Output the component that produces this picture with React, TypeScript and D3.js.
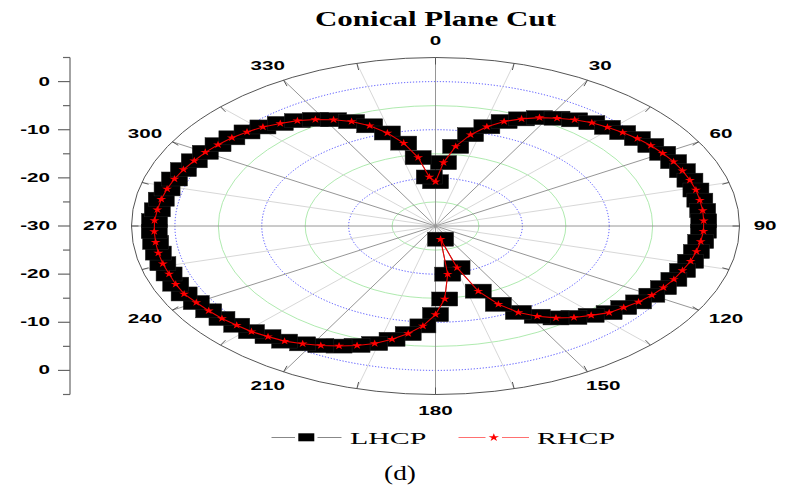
import React from "react";
import * as d3 from "d3";

const TITLE = "Conical Plane Cut";
const CAPTION = "(d)";
const SERIES_NAMES = ["LHCP", "RHCP"];

const ANGLES = [
  0, 4, 8, 12, 16, 20, 24, 28, 32, 36, 40, 44, 48, 52, 56, 60, 64, 68, 72, 76,
  80, 84, 88, 92, 96, 100, 104, 108, 112, 116, 120, 124, 128, 132, 136, 140,
  144, 148, 152, 156, 160, 164, 168, 172, 176, 180, 184, 188, 192, 196, 200,
  204, 208, 212, 216, 220, 224, 228, 232, 236, 240, 244, 248, 252, 256, 260,
  264, 268, 272, 276, 280, 284, 288, 292, 296, 300, 304, 308, 312, 316, 320,
  324, 328, 332, 336, 340, 344, 348, 352, 356,
];

const LHCP = [
  -20.8, -16.8, -13.3, -10.6, -8.55, -6.9, -5.64, -4.5, -3.6, -2.74, -2.0, -1.5,
  -1.0, -0.5, -0.1, 0.2, 0.5, 0.66, 0.8, 0.9, 0.9, 0.93, 0.9, 0.87, 0.7, 0.5,
  0.27, -0.1, -0.4, -0.8, -1.24, -1.8, -2.5, -3.1, -4.2, -5.2, -6.4, -7.9,
  -9.67, -12.2, -15.6, -21.0, -27.2, -19.9, -14.8, -11.6, -9.2, -7.43, -5.94,
  -4.6, -3.6, -2.7, -1.87, -1.14, -0.44, 0.0, 0.5, 0.8, 1.2, 1.5, 1.8, 2.2,
  2.26, 2.25, 2.35, 2.4, 2.4, 2.4, 2.37, 2.2, 2.06, 1.85, 1.6, 1.3, 0.9, 0.6,
  0.2, -0.25, -0.8, -1.4, -2.2, -2.95, -3.9, -5.0, -6.25, -7.85, -9.9, -12.4,
  -15.65, -19.8,
];

const RHCP = [
  -20.8, -16.8, -13.3, -10.6, -8.55, -6.9, -5.64, -4.5, -3.6, -2.74, -2.0, -1.5,
  -1.0, -0.5, -0.1, 0.2, 0.5, 0.66, 0.8, 0.9, 0.9, 0.93, 0.9, 0.87, 0.7, 0.5,
  0.27, -0.1, -0.4, -0.8, -1.24, -1.8, -2.5, -3.1, -4.2, -5.2, -6.4, -7.9,
  -9.67, -12.2, -15.6, -21.0, -27.2, -19.9, -14.8, -11.6, -9.2, -7.43, -5.94,
  -4.6, -3.6, -2.7, -1.87, -1.14, -0.44, 0.0, 0.5, 0.8, 1.2, 1.5, 1.8, 2.2,
  2.26, 2.25, 2.35, 2.4, 2.4, 2.4, 2.37, 2.2, 2.06, 1.85, 1.6, 1.3, 0.9, 0.6,
  0.2, -0.25, -0.8, -1.4, -2.2, -2.95, -3.9, -5.0, -6.25, -7.85, -9.9, -12.4,
  -15.65, -19.8,
];

const ANGLE_LABELS = [0, 30, 60, 90, 120, 150, 180, 210, 240, 270, 300, 330];
const SPOKE_ANGLES = [
  0, 15, 30, 45, 60, 75, 90, 105, 120, 135, 150, 165, 180, 195, 210, 225, 240,
  255, 270, 285, 300, 315, 330, 345,
];
const GREEN_RINGS = [-25, -15, -5];
const BLUE_RINGS = [-20, -10, 0];
const AXIS_MAJOR = [0, -10, -20, -30];
const AXIS_MINOR = [5, -5, -15, -25];
const R_MIN = -30;
const R_MAX = 5;

const W = 790;
const H = 486;
const CX = 435.5;
const CY = 226;
const RX = 304;
const RY = 168.5;
const SX = 1.65;

const rScale = d3.scaleLinear().domain([R_MIN, R_MAX]).range([0, 1]).clamp(true);
const axisScale = d3.scaleLinear().domain([R_MIN, R_MAX]).range([0, RY]);

function pt(deg: number, v: number): [number, number] {
  const t = (deg * Math.PI) / 180;
  const k = rScale(v);
  return [CX + RX * k * Math.sin(t), CY - RY * k * Math.cos(t)];
}

const starPath = d3.symbol(d3.symbolStar, 18)() as string;
const legendStar = d3.symbol(d3.symbolStar, 20)() as string;
const lineGen = d3.line().curve(d3.curveLinearClosed);

const sansBold = "'Liberation Sans', Arial, sans-serif";
const serif = "'Liberation Serif', 'Times New Roman', serif";

export default function App() {
  const lPts = ANGLES.map((a, i) => pt(a, LHCP[i]));
  const rPts = ANGLES.map((a, i) => pt(a, RHCP[i]));
  const AXIS_X = 70;

  return (
    <div style={{ position: "fixed", left: 0, top: 0, width: W, height: H, background: "#fff" }}>
      <svg width={W} height={H} viewBox={`0 0 ${W} ${H}`} style={{ display: "block" }}>
        <rect x={0} y={0} width={W} height={H} fill="#ffffff" />
        {/* title */}
        <text
          transform={`translate(${CX},26) scale(1.55,1)`}
          textAnchor="middle"
          fontFamily={serif}
          fontWeight="bold"
          fontSize={20}
          fill="#000"
        >
          {TITLE}
        </text>

        {/* rings */}
        {GREEN_RINGS.map((v) => (
          <ellipse key={"g" + v} cx={CX} cy={CY} rx={RX * rScale(v)} ry={RY * rScale(v)}
            fill="none" stroke="#a6e8a6" strokeWidth={0.9} />
        ))}
        {BLUE_RINGS.map((v) => (
          <ellipse key={"b" + v} cx={CX} cy={CY} rx={RX * rScale(v)} ry={RY * rScale(v)}
            fill="none" stroke="#3a3aff" strokeWidth={0.9} strokeDasharray="1.2 1.8" />
        ))}

        {/* spokes */}
        {SPOKE_ANGLES.map((a) => {
          const [x, y] = pt(a, R_MAX);
          const major = a % 30 === 0;
          return (
            <line key={"s" + a} x1={CX} y1={CY} x2={x} y2={y}
              stroke={major ? "#8a8a8a" : "#d2d2d2"} strokeWidth={0.9} />
          );
        })}
        {/* outer ticks */}
        {SPOKE_ANGLES.map((a) => {
          const [x1, y1] = pt(a, R_MAX);
          const t = (a * Math.PI) / 180;
          const x2 = x1 - 7 * Math.sin(t);
          const y2 = y1 + 7 * Math.cos(t);
          return <line key={"t" + a} x1={x1} y1={y1} x2={x2} y2={y2} stroke="#555" strokeWidth={1} />;
        })}
        <ellipse cx={CX} cy={CY} rx={RX} ry={RY} fill="none" stroke="#555" strokeWidth={1} />
        <circle cx={CX} cy={CY} r={2} fill="#999" />

        {/* angle labels */}
        {ANGLE_LABELS.map((a) => {
          const label = String(a);
          const hw = label.length * 5.8;
          const t = (a * Math.PI) / 180;
          const x = CX + (RX + 14 + hw) * Math.sin(t);
          const y = CY - (RY + 16.5) * Math.cos(t);
          return (
            <text key={"al" + a} transform={`translate(${x},${y}) scale(${SX},1)`}
              textAnchor="middle" dominantBaseline="central"
              fontFamily={sansBold} fontWeight="bold" fontSize={12.5} fill="#000">
              {label}
            </text>
          );
        })}

        {/* LHCP */}
        <path d={lineGen(lPts) as string} fill="none" stroke="#777" strokeWidth={1} />
        {lPts.map(([x, y], i) => (
          <rect key={"sq" + i} x={x - 13} y={y - 7} width={26} height={14} fill="#000" stroke="#222" strokeWidth={0.5} />
        ))}
        {/* RHCP */}
        <path d={lineGen(rPts) as string} fill="none" stroke="#ee0000" strokeWidth={1.1} />
        {rPts.map(([x, y], i) => (
          <path key={"st" + i} d={starPath} transform={`translate(${x},${y}) scale(1.3,1)`} fill="#ff0000" />
        ))}

        {/* left radial axis */}
        <line x1={AXIS_X} x2={AXIS_X} y1={CY - axisScale(R_MAX)} y2={CY + axisScale(R_MAX)} stroke="#666" strokeWidth={1.2} />
        {AXIS_MAJOR.map((v) => {
          const ys = v === R_MIN ? [CY] : [CY - axisScale(v), CY + axisScale(v)];
          return ys.map((y, j) => (
            <g key={"am" + v + "_" + j}>
              <line x1={AXIS_X - 12} x2={AXIS_X} y1={y} y2={y} stroke="#666" strokeWidth={1.2} />
              <text transform={`translate(${AXIS_X - 20},${y}) scale(${SX},1)`} textAnchor="end"
                dominantBaseline="central" fontFamily={sansBold} fontWeight="bold" fontSize={12.5} fill="#000">
                {String(v)}
              </text>
            </g>
          ));
        })}
        {AXIS_MINOR.map((v) =>
          [CY - axisScale(v), CY + axisScale(v)].map((y, j) => (
            <line key={"an" + v + "_" + j} x1={AXIS_X - 7} x2={AXIS_X} y1={y} y2={y} stroke="#666" strokeWidth={1.2} />
          ))
        )}

        {/* legend */}
        <line x1={271.5} x2={295} y1={437.5} y2={437.5} stroke="#888" strokeWidth={1} />
        <line x1={317.5} x2={341.5} y1={437.5} y2={437.5} stroke="#888" strokeWidth={1} />
        <rect x={298.3} y={433.3} width={16} height={8} fill="#000" />
        <text transform={`translate(350,443.5) scale(1.7,1)`} fontFamily={serif} fontSize={17.6} fill="#000">
          {SERIES_NAMES[0]}
        </text>
        <line x1={458.5} x2={485.5} y1={437.5} y2={437.5} stroke="#ff7070" strokeWidth={1} />
        <line x1={502} x2={529} y1={437.5} y2={437.5} stroke="#ff7070" strokeWidth={1} />
        <path d={legendStar} transform={`translate(493.8,437.5) scale(1.3,1)`} fill="#ff0000" />
        <text transform={`translate(537,443.5) scale(1.7,1)`} fontFamily={serif} fontSize={17.6} fill="#000">
          {SERIES_NAMES[1]}
        </text>

        {/* caption */}
        <text transform={`translate(400,480) scale(1.3,1)`} textAnchor="middle" fontFamily={serif} fontSize={21} fill="#000">
          {CAPTION}
        </text>
      </svg>
    </div>
  );
}
